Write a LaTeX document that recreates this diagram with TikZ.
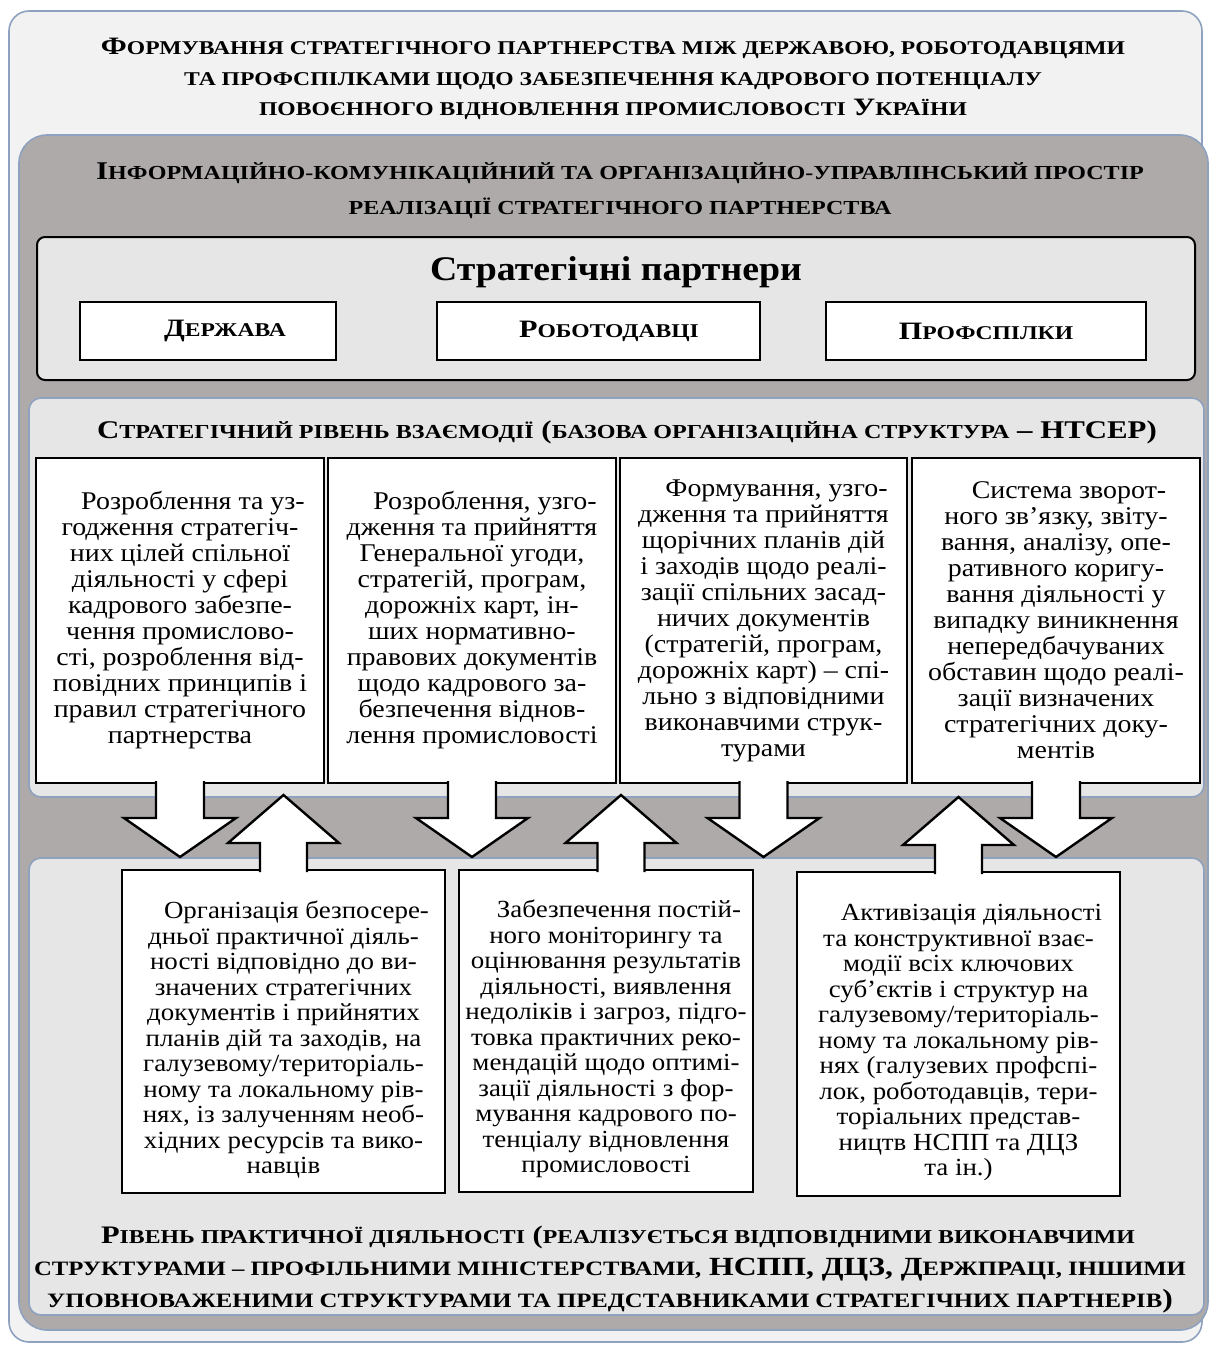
\documentclass[tikz,border=0pt]{standalone}
\usepackage{fontspec}
\setmainfont{Liberation Serif}[FakeStretch=1.095]
\newfontfamily\capsfont{Liberation Serif}[FakeStretch=1.21]
\makeatletter
\newcommand\smc[1]{{\fontsize{\fpeval{0.78*\f@size}}{\f@baselineskip}\selectfont #1}}
\makeatother
\definecolor{pagefill}{HTML}{F2F2F2}
\definecolor{spacefill}{HTML}{AEAAAA}
\definecolor{levelfill}{HTML}{E7E6E6}
\definecolor{frameline}{HTML}{8EA2BF}

\begin{document}
\begin{tikzpicture}[x=1pt,y=-1pt,
  plate/.style={draw=frameline, line width=1.6pt, rounded corners=#1},
  plate/.default=20pt,
  title/.style={font=\capsfont\bfseries\fontsize{25.5}{32}\selectfont, align=center},
  partner/.style={draw, line width=2pt, fill=white, minimum height=58, font=\capsfont\bfseries\fontsize{25}{26}\selectfont},
  textbox/.style={draw, line width=2.4pt, fill=white, outer sep=0pt, inner sep=0pt, align=center, font=\fontsize{25.5}{26}\selectfont},
  lowbox/.style={textbox, font=\fontsize{24.6}{25.5}\selectfont},
  arrowfill/.style={fill=white, draw, line width=2.4pt, line join=miter}]
\useasboundingbox (0,0) rectangle (1209,1345);

% plates
\draw[plate, fill=pagefill] (9,11) rectangle (1202,1342);
\draw[plate=28pt, fill=spacefill] (19,135) rectangle (1208,1330);
\draw[plate=12pt, fill=levelfill] (29,398) rectangle (1204,797);
\draw[plate=12pt, fill=levelfill] (29,858) rectangle (1204,1315);
\draw[rounded corners=8pt, line width=2pt, fill=levelfill] (37,237) rectangle (1195,380);

\node[title, font=\capsfont\bfseries\fontsize{25}{30.5}\selectfont] (head) at (613,79) {Ф\smc{ОРМУВАННЯ СТРАТЕГІЧНОГО ПАРТНЕРСТВА МІЖ ДЕРЖАВОЮ, РОБОТОДАВЦЯМИ}\\
  \smc{ТА ПРОФСПІЛКАМИ ЩОДО ЗАБЕЗПЕЧЕННЯ КАДРОВОГО ПОТЕНЦІАЛУ}\\
  \smc{ПОВОЄННОГО ВІДНОВЛЕННЯ ПРОМИСЛОВОСТІ} У\smc{КРАЇНИ}};
\node[title, font=\capsfont\bfseries\fontsize{25.5}{35}\selectfont] (space) at (620,191) {І\smc{НФОРМАЦІЙНО-КОМУНІКАЦІЙНИЙ ТА ОРГАНІЗАЦІЙНО-УПРАВЛІНСЬКИЙ ПРОСТІР}\\
  \smc{РЕАЛІЗАЦІЇ СТРАТЕГІЧНОГО ПАРТНЕРСТВА}};

\node[font=\bfseries\fontsize{34.5}{36}\selectfont] (partners) at (616,272) {Стратегічні партнери};
\node[partner, minimum width=256] (state) at (208,331) {\hspace*{34pt}Д\smc{ЕРЖАВА}};
\node[partner, minimum width=323] (employers) at (598,331) {\hspace*{22pt}Р\smc{ОБОТОДАВЦІ}};
\node[partner, minimum width=320] (unions) at (986,331) {П\smc{РОФСПІЛКИ}};

\node[title] (strategic) at (627,432) {С\smc{ТРАТЕГІЧНИЙ РІВЕНЬ ВЗАЄМОДІЇ} (\smc{БАЗОВА ОРГАНІЗАЦІЙНА СТРУКТУРА} – НТСЕР)};

% strategic level
\node[textbox, minimum width=288, minimum height=325, anchor=north west] (strat1) at (36,458)
  {\hspace*{26pt}Розроблення та уз-\\годження стратегіч-\\них цілей спільної\\діяльності у сфері\\кадрового забезпе-\\чення промислово-\\сті, розроблення від-\\повідних принципів і\\правил стратегічного\\партнерства};
\node[textbox, minimum width=288, minimum height=325, anchor=north west] (strat2) at (328,458)
  {\hspace*{26pt}Розроблення, узго-\\дження та прийняття\\Генеральної угоди,\\стратегій, програм,\\дорожніх карт, ін-\\ших нормативно-\\правових документів\\щодо кадрового за-\\безпечення віднов-\\лення промисловості};
\node[textbox, minimum width=287, minimum height=325, anchor=north west] (strat3) at (620,458)
  {\hspace*{26pt}Формування, узго-\\дження та прийняття\\щорічних планів дій\\і заходів щодо реалі-\\зації спільних засад-\\ничих документів\\(стратегій, програм,\\дорожніх карт) – спі-\\льно з відповідними\\виконавчими струк-\\турами};
\node[textbox, minimum width=288, minimum height=325, anchor=north west] (strat4) at (912,458)
  {\hspace*{26pt}Система зворот-\\ного зв’язку, звіту-\\вання, аналізу, опе-\\ративного коригу-\\вання діяльності у\\випадку виникнення\\непередбачуваних\\обставин щодо реалі-\\зації визначених\\стратегічних доку-\\ментів};

\path[arrowfill] ([xshift=-24pt,yshift=2pt]strat1.south) -- ++(0,37) -- ++(-32,0) -- ++(56,39) -- ++(56,-39) -- ++(-32,0) -- ++(0,-37);
\path[arrowfill] ([xshift=-24pt,yshift=2pt]strat2.south) -- ++(0,37) -- ++(-32,0) -- ++(56,39) -- ++(56,-39) -- ++(-32,0) -- ++(0,-37);
\path[arrowfill] ([xshift=-24pt,yshift=2pt]strat3.south) -- ++(0,37) -- ++(-32,0) -- ++(56,39) -- ++(56,-39) -- ++(-32,0) -- ++(0,-37);
\path[arrowfill] ([xshift=-24pt,yshift=2pt]strat4.south) -- ++(0,37) -- ++(-32,0) -- ++(56,39) -- ++(56,-39) -- ++(-32,0) -- ++(0,-37);

% practical level
\node[lowbox, minimum width=323, minimum height=323, anchor=north west] (pract1) at (122,870)
  {\rule{0pt}{34pt}\hspace*{26pt}Організація безпосере-\\дньої практичної діяль-\\ності відповідно до ви-\\значених стратегічних\\документів і прийнятих\\планів дій та заходів, на\\галузевому/територіаль-\\ному та локальному рів-\\нях, із залученням необ-\\хідних ресурсів та вико-\\навців};
\node[lowbox, minimum width=294, minimum height=322, anchor=north west] (pract2) at (459,870)
  {\rule{0pt}{34pt}\hspace*{26pt}Забезпечення постій-\\ного моніторингу та\\оцінювання результатів\\діяльності, виявлення\\недоліків і загроз, підго-\\товка практичних реко-\\мендацій щодо оптимі-\\зації діяльності з фор-\\мування кадрового по-\\тенціалу відновлення\\промисловості};
\node[lowbox, minimum width=323, minimum height=324, anchor=north west] (pract3) at (797,872)
  {\rule{0pt}{34pt}\hspace*{26pt}Активізація діяльності\\та конструктивної взає-\\модії всіх ключових\\суб’єктів і структур на\\галузевому/територіаль-\\ному та локальному рів-\\нях (галузевих профспі-\\лок, роботодавців, тери-\\торіальних представ-\\ництв НСПП та ДЦЗ\\та ін.)};

\path[arrowfill] ([xshift=-23.5pt,yshift=-2pt]pract1.north) -- ++(0,-29) -- ++(-32,0) -- ++(55.5,-48) -- ++(55.5,48) -- ++(-32,0) -- ++(0,29);
\path[arrowfill] ([xshift=-8.5pt,yshift=-2pt]pract2.north) -- ++(0,-29) -- ++(-32,0) -- ++(55.5,-48) -- ++(55.5,48) -- ++(-32,0) -- ++(0,29);
\path[arrowfill] ([xshift=-23.5pt,yshift=-2pt]pract3.north) -- ++(0,-29) -- ++(-32,0) -- ++(55.5,-48) -- ++(55.5,48) -- ++(-32,0) -- ++(0,29);

\node[title, font=\capsfont\bfseries\fontsize{26.2}{32}\selectfont] (practical) at (610,1270)
  {{\fontsize{25.2}{32}\selectfont\hspace*{16pt}Р\smc{ІВЕНЬ ПРАКТИЧНОЇ ДІЯЛЬНОСТІ} (\smc{РЕАЛІЗУЄТЬСЯ ВІДПОВІДНИМИ ВИКОНАВЧИМИ}}\\
  \smc{СТРУКТУРАМИ – ПРОФІЛЬНИМИ МІНІСТЕРСТВАМИ,} НСПП, ДЦЗ, Д\smc{ЕРЖПРАЦІ, ІНШИМИ}\\
  \smc{УПОВНОВАЖЕНИМИ СТРУКТУРАМИ ТА ПРЕДСТАВНИКАМИ СТРАТЕГІЧНИХ ПАРТНЕРІВ})};
\end{tikzpicture}
\end{document}
